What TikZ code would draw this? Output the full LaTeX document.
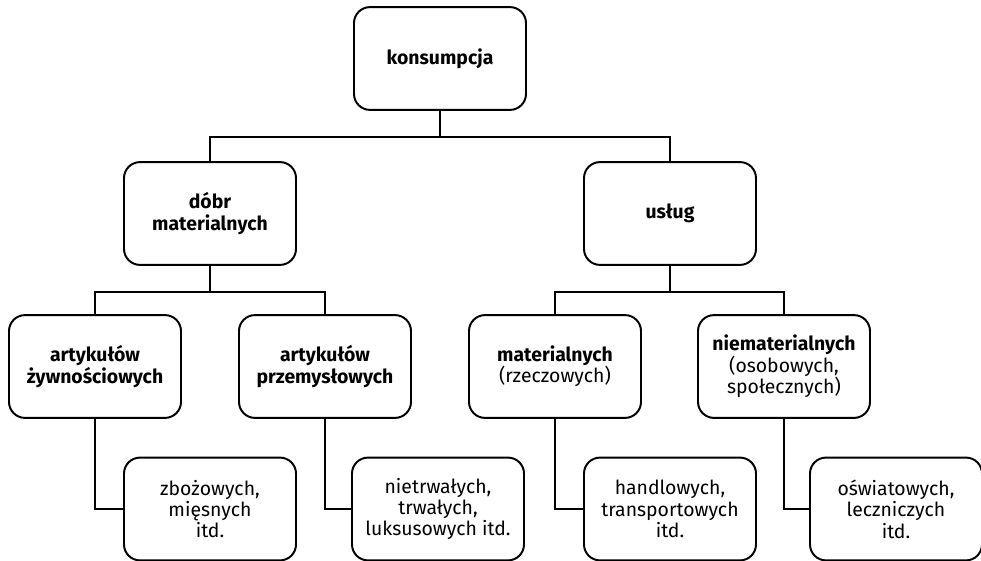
\documentclass[tikz,border=0pt]{standalone}
\usepackage{fontspec}
\setmainfont{Fira Sans}
\usepackage{tikz}
\usetikzlibrary{positioning}

\begin{document}
\begin{tikzpicture}[box/.style={draw,line width=1.4pt,rounded corners=0.4cm,
		minimum width=4.3cm,minimum height=2.57cm,align=center,
		font=\fontsize{13.8}{15.2}\selectfont},
	con/.style={line width=0.8pt}]
	\useasboundingbox (0,0) rectangle (24.525,14.025);
	% top
	\node[box] (k) at (11,12.5625) {\textbf{konsumpcja}};
	% level 2
	\node[box] (d) at (5.25,8.6875) {\textbf{dóbr}\\\textbf{materialnych}};
	\node[box] (u) at (16.75,8.6875) {\textbf{usług}};
	% level 3
	\node[box] (az) at (2.375,4.8625) {\textbf{artykułów}\\\textbf{żywnościowych}};
	\node[box] (ap) at (8.125,4.8625) {\textbf{artykułów}\\\textbf{przemysłowych}};
	\node[box] (m) at (13.875,4.8625) {\textbf{materialnych}\\(rzeczowych)};
	\node[box] (n) at (19.6,4.8625) {\textbf{niematerialnych}\\(osobowych,\\społecznych)};
	% level 4
	\node[box] (z) at (5.25,1.3) {zbożowych,\\mięsnych\\itd.};
	\node[box] (t) at (10.95,1.3) {nietrwałych,\\trwałych,\\luksusowych itd.};
	\node[box] (h) at (16.75,1.3) {handlowych,\\transportowych\\itd.};
	\node[box] (o) at (22.4,1.3) {oświatowych,\\leczniczych\\itd.};
	% connectors
	\coordinate (b1) at (11,10.6);
	\coordinate (b2) at (5.25,6.725);
	\coordinate (b3) at (16.75,6.725);
	\draw[con] (k.south) -- (b1);
	\draw[con] (d.north) |- (b1) -| (u.north);
	\draw[con] (d.south) -- (b2);
	\draw[con] (az.north) |- (b2) -| (ap.north);
	\draw[con] (u.south) -- (b3);
	\draw[con] (m.north) |- (b3) -| (n.north);
	\draw[con] (az.south) |- (z.west);
	\draw[con] (ap.south) |- (t.west);
	\draw[con] (m.south) |- (h.west);
	\draw[con] (n.south) |- (o.west);
\end{tikzpicture}
\end{document}
